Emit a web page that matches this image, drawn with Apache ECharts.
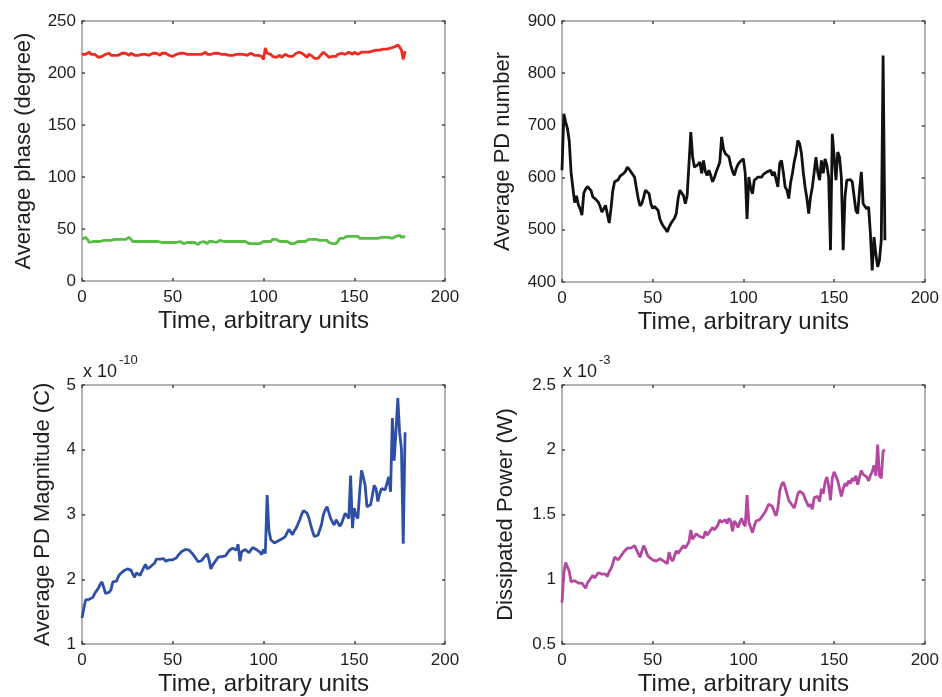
<!DOCTYPE html>
<html>
<head>
<meta charset="utf-8">
<script src="https://cdn.jsdelivr.net/npm/echarts/dist/echarts.min.js"></script>
<style>
  html, body { margin: 0; padding: 0; background: #fff; }
  #chart { width: 942px; height: 697px; }
</style>
</head>
<body>
<div id="chart"></div>
<script>
// Average phase of the positive half-cycle discharges (degree), one value per time step
const phaseUpper = [
  218,219,218,219,220,218,217,218,217,215,
  215,216,217,218,218,219,217,218,217,216,
  217,218,219,218,219,218,217,219,218,217,
  218,217,216,218,217,218,219,217,218,219,
  218,219,218,217,219,218,219,218,217,216,
  216,217,218,218,219,218,219,218,218,219,
  218,219,218,219,218,217,218,219,220,218,
  219,218,219,219,218,219,218,218,217,218,
  218,217,218,217,218,218,219,218,217,218,
  218,217,218,219,218,217,218,217,218,216,
  213,224,219,220,218,216,217,215,216,217,
  215,216,218,217,216,215,216,217,219,219,
  220,219,218,217,215,218,217,216,214,213,
  214,216,218,220,219,217,215,216,216,217,
  216,218,219,219,220,218,219,220,219,218,
  220,219,218,219,220,221,220,219,220,221,
  221,220,222,221,222,222,223,222,223,223,
  224,224,225,226,227,225,222,213,221
];
// Average phase of the negative half-cycle discharges (degree)
const phaseLower = [
  40,41,42,40,37,36,38,39,38,39,
  38,39,39,40,39,38,39,40,40,39,
  40,39,40,41,40,41,42,40,38,39,
  38,39,38,37,38,39,38,37,38,39,
  38,37,38,37,37,38,37,36,37,37,
  37,36,37,37,38,37,36,37,37,36,
  37,36,37,36,35,37,36,38,37,36,
  38,37,38,39,37,38,39,38,38,39,
  38,39,38,37,38,39,38,37,38,37,
  38,37,36,37,36,35,36,37,36,37,
  38,37,38,39,38,40,39,40,39,38,
  39,38,37,38,37,36,37,36,37,38,
  37,38,39,38,39,40,41,40,41,40,
  40,39,40,39,38,39,37,36,36,35,
  36,38,41,40,41,42,43,42,43,44,
  43,42,43,41,42,41,40,41,42,41,
  40,41,42,41,40,42,41,42,41,42,
  43,41,42,43,42,44,42,41,43
];
// Average PD count per time step
const pdNumber = [
  614,722,707,694,670,610,580,552,565,548,
  540,528,570,578,583,586,575,563,560,557,
  553,545,534,540,547,530,513,540,575,592,
  594,596,603,606,608,612,620,616,611,606,
  601,580,560,546,550,562,576,573,569,550,
  541,545,547,537,520,512,506,502,496,505,
  512,515,522,531,560,576,574,565,550,566,
  563,687,640,620,617,625,630,608,633,612,
  604,614,604,592,600,611,620,630,678,655,
  646,644,640,624,612,604,617,625,630,633,
  636,608,521,601,580,569,595,598,601,600,
  601,606,609,611,612,614,604,611,608,582,
  627,633,610,582,576,560,590,608,630,646,
  671,665,646,610,582,560,531,563,582,610,
  639,610,595,633,608,636,624,600,461,684,
  640,595,649,639,600,461,563,595,598,596,
  592,595,537,531,575,611,550,547,540,544,
  493,422,486,454,429,442,480,834,480
];
// Average PD magnitude, in units of 1e-10 C
const pdMagnitude = [
  1.40,1.55,1.68,1.70,1.69,1.68,1.72,1.78,1.82,1.86,
  1.92,1.96,1.98,1.78,1.76,1.80,1.84,1.96,1.98,1.97,
  2.04,2.08,2.10,2.13,2.15,2.16,2.15,2.14,2.08,2.03,
  2.10,2.11,2.06,2.12,2.18,2.23,2.16,2.17,2.20,2.18,
  2.25,2.31,2.32,2.31,2.30,2.32,2.28,2.26,2.30,2.33,
  2.30,2.28,2.33,2.37,2.40,2.43,2.46,2.46,2.45,2.45,
  2.43,2.39,2.35,2.31,2.27,2.26,2.29,2.33,2.36,2.39,
  2.30,2.16,2.22,2.26,2.30,2.34,2.35,2.35,2.35,2.36,
  2.40,2.44,2.46,2.48,2.49,2.45,2.54,2.28,2.43,2.40,
  2.46,2.44,2.41,2.44,2.49,2.48,2.46,2.46,2.42,2.38,
  2.46,2.40,3.30,2.75,2.61,2.58,2.56,2.57,2.59,2.60,
  2.62,2.64,2.66,2.72,2.77,2.74,2.69,2.75,2.79,2.82,
  2.92,3.00,3.06,3.07,3.02,2.95,2.84,2.74,2.66,2.67,
  2.68,2.69,2.85,3.00,3.07,3.12,3.03,2.94,2.88,2.84,
  2.92,2.87,2.82,2.86,2.89,3.02,2.98,2.94,3.60,2.79,
  3.10,2.98,2.94,3.35,3.68,3.58,3.45,3.12,3.14,3.15,
  3.30,3.45,3.40,3.20,3.32,3.40,3.42,3.38,3.48,3.58,
  3.35,4.49,3.83,4.29,4.80,4.26,4.01,2.55,4.27
];
// Dissipated power, in units of 1e-3 W
const dissipatedPower = [
  0.82,1.05,1.13,1.13,1.06,0.98,0.97,0.99,0.99,0.97,
  0.98,0.97,0.95,0.93,0.97,0.99,1.01,1.03,1.01,1.02,
  1.05,1.06,1.04,1.05,1.04,1.02,1.06,1.08,1.12,1.17,
  1.16,1.15,1.17,1.19,1.21,1.22,1.24,1.25,1.24,1.25,
  1.26,1.27,1.20,1.17,1.16,1.26,1.23,1.19,1.17,1.16,
  1.15,1.14,1.14,1.15,1.16,1.15,1.14,1.13,1.12,1.21,
  1.16,1.14,1.18,1.22,1.20,1.21,1.24,1.26,1.24,1.25,
  1.29,1.38,1.31,1.33,1.35,1.35,1.33,1.34,1.32,1.37,
  1.34,1.36,1.38,1.40,1.38,1.37,1.42,1.46,1.44,1.45,
  1.46,1.43,1.47,1.45,1.37,1.45,1.43,1.40,1.44,1.47,
  1.43,1.41,1.65,1.44,1.40,1.36,1.41,1.45,1.44,1.46,
  1.48,1.50,1.52,1.55,1.58,1.59,1.56,1.52,1.49,1.55,
  1.68,1.73,1.75,1.71,1.66,1.61,1.59,1.57,1.55,1.60,
  1.66,1.68,1.67,1.66,1.62,1.59,1.56,1.58,1.54,1.63,
  1.62,1.64,1.60,1.70,1.66,1.75,1.79,1.72,1.61,1.78,
  1.83,1.83,1.76,1.70,1.64,1.70,1.74,1.72,1.76,1.74,
  1.78,1.76,1.80,1.73,1.79,1.84,1.81,1.82,1.79,1.76,
  1.80,1.83,1.88,1.80,2.04,1.80,1.78,1.99,2.00
];

// Axis ranges and tick spacing
const timeAxis = { min: 0, max: 200, interval: 50 };
const phaseAxis = { min: 0, max: 250, interval: 50 };
const numberAxis = { min: 400, max: 900, interval: 100 };
const magnitudeAxis = { min: 1, max: 5, interval: 1 };
const powerAxis = { min: 0.5, max: 2.5, interval: 0.5 };

const timeTitle = 'Time, arbitrary units';
const yTitles = ['Average phase (degree)', 'Average PD number', 'Average PD Magnitude (C)', 'Dissipated Power (W)'];

const FONT = '"Liberation Sans", Arial, sans-serif';
const TEXT = '#1e1e1e';
const BOX = '#b4b4b4';

const toPairs = arr => arr.map((v, i) => [i, v]);

const grids = [
  { left: 82,  top: 21,  width: 363, height: 260 },
  { left: 562, top: 21,  width: 363, height: 261 },
  { left: 82,  top: 385, width: 363, height: 262 },
  { left: 562, top: 385, width: 363, height: 263 }
];
const yRanges = [phaseAxis, numberAxis, magnitudeAxis, powerAxis];
const yNameGaps = [47, 48, 28, 45];

const tick = { show: true, inside: true, length: 3, lineStyle: { color: '#444', width: 1.5 } };
const boxLine = { show: true, onZero: false, lineStyle: { color: BOX, width: 2 } };

const xAxes = [], yAxes = [];
grids.forEach((g, i) => {
  xAxes.push({
    type: 'value', gridIndex: i, position: 'bottom', ...timeAxis,
    axisLine: boxLine, axisTick: tick, splitLine: { show: false },
    axisLabel: { color: TEXT, fontSize: 17, fontFamily: FONT, margin: 8 },
    name: timeTitle, nameLocation: 'middle', nameGap: 28,
    nameTextStyle: { color: TEXT, fontSize: 24, fontFamily: FONT }
  });
  xAxes.push({
    type: 'value', gridIndex: i, position: 'top', ...timeAxis,
    axisLine: boxLine, axisTick: tick, splitLine: { show: false },
    axisLabel: { show: false }
  });
  yAxes.push({
    type: 'value', gridIndex: i, position: 'left', ...yRanges[i],
    axisLine: boxLine, axisTick: tick, splitLine: { show: false },
    axisLabel: { color: TEXT, fontSize: 17, fontFamily: FONT, margin: 6 },
    name: yTitles[i], nameLocation: 'middle', nameGap: yNameGaps[i],
    nameTextStyle: { color: TEXT, fontSize: 22, fontFamily: FONT }
  });
  yAxes.push({
    type: 'value', gridIndex: i, position: 'right', ...yRanges[i],
    axisLine: boxLine, axisTick: tick, splitLine: { show: false },
    axisLabel: { show: false }
  });
});

const line = (data, panel, color) => ({
  type: 'line', data: toPairs(data),
  xAxisIndex: panel * 2, yAxisIndex: panel * 2,
  showSymbol: false, symbol: 'none',
  lineStyle: { color, width: 2.8 },
  emphasis: { disabled: true }
});

// Scale-factor captions above the two lower panels
const expText = (left, top, text, size) => ({
  type: 'text', left, top,
  style: { text, fontSize: size, fontFamily: FONT, fill: TEXT }
});

const chart = echarts.init(document.getElementById('chart'), null, { renderer: 'canvas' });
chart.setOption({
  animation: false,
  backgroundColor: '#fff',
  grid: grids,
  xAxis: xAxes,
  yAxis: yAxes,
  series: [
    line(phaseUpper, 0, '#ef2b22'),
    line(phaseLower, 0, '#58bd43'),
    line(pdNumber, 1, '#111111'),
    line(pdMagnitude, 2, '#2e4fa6'),
    line(dissipatedPower, 3, '#b4479f')
  ],
  graphic: [
    expText(83, 363, 'x 10', 18),
    expText(119, 354, '-10', 13),
    expText(563, 363, 'x 10', 18),
    expText(599, 354, '-3', 13)
  ]
});
</script>
</body>
</html>
